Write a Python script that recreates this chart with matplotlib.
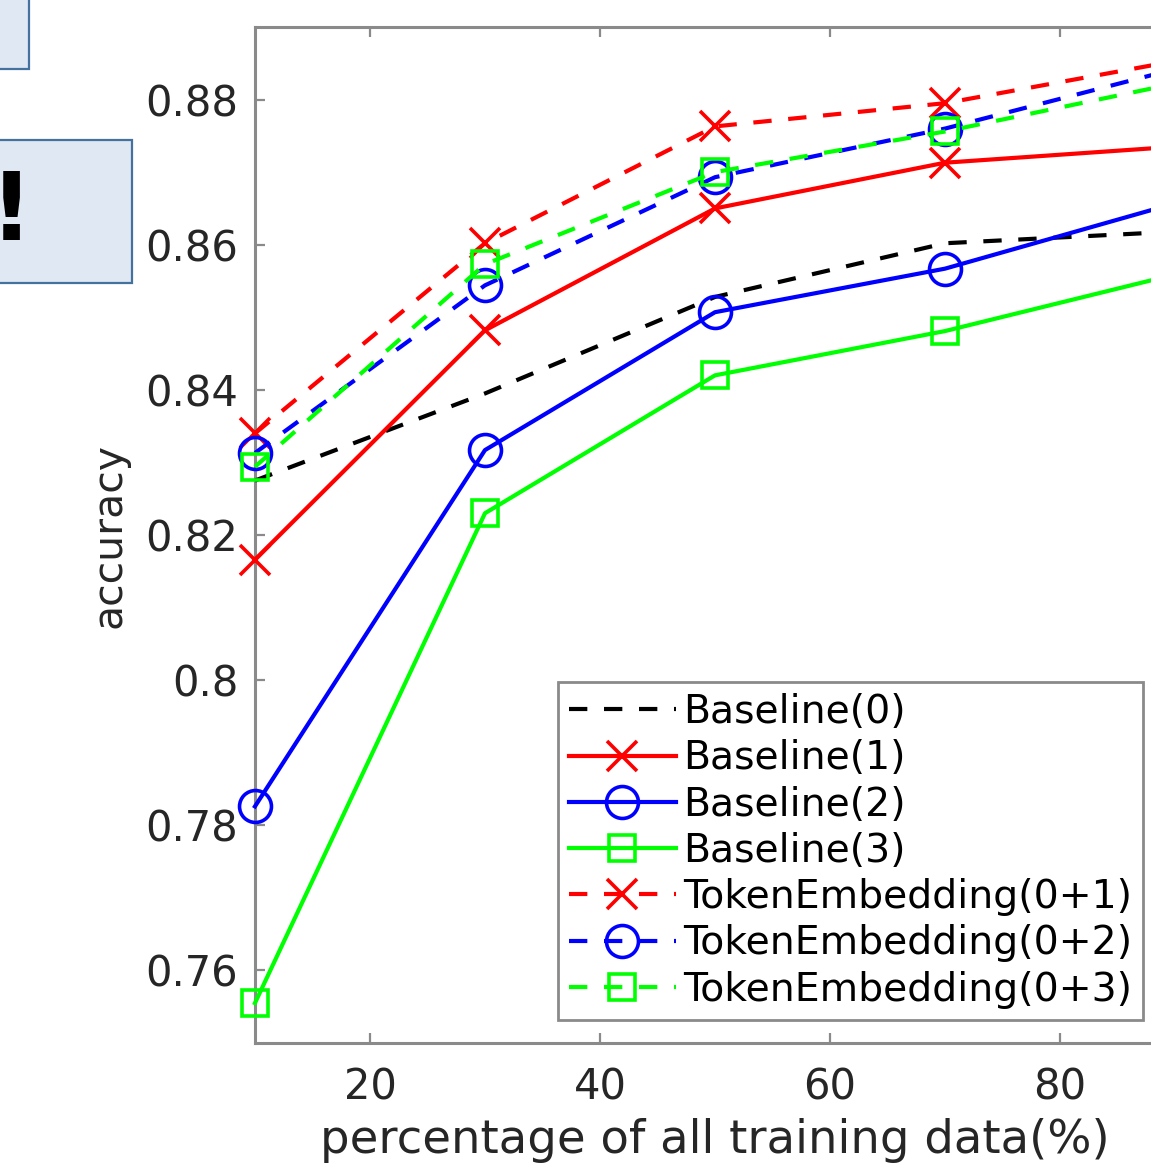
"""Accuracy vs fraction of training data: baselines vs token-embedding combos
(MATLAB-style figure, cropped on the right, with two slide callout boxes)."""
import numpy as np
import matplotlib
matplotlib.use("Agg")
import matplotlib.pyplot as plt
from matplotlib.patches import Rectangle

pct = [10, 30, 50, 70, 90]
labels = ["Baseline(0)", "Baseline(1)", "Baseline(2)", "Baseline(3)",
          "TokenEmbedding(0+1)", "TokenEmbedding(0+2)", "TokenEmbedding(0+3)"]
base0 = [0.8275, 0.8395, 0.8528, 0.8602, 0.8618]
base1 = [0.8166, 0.8482, 0.8650, 0.8713, 0.8735]
base2 = [0.7826, 0.8317, 0.8507, 0.8567, 0.8657]
base3 = [0.7555, 0.8230, 0.8420, 0.8481, 0.8559]
tok01 = [0.8340, 0.8602, 0.8763, 0.8795, 0.8853]
tok02 = [0.8313, 0.8544, 0.8693, 0.8760, 0.8842]
tok03 = [0.8294, 0.8573, 0.8700, 0.8756, 0.8822]
xticks = [20, 40, 60, 80]
yticks = [0.76, 0.78, 0.80, 0.82, 0.84, 0.86, 0.88]
yticklabels = ["0.76", "0.78", "0.8", "0.82", "0.84", "0.86", "0.88"]

series = [base0, base1, base2, base3, tok01, tok02, tok03]
styles = [("k", "--", ""), ("r", "-", "x"), ("b", "-", "o"), ("#00ff00", "-", "s"),
          ("r", "--", "x"), ("b", "--", "o"), ("#00ff00", "--", "s")]
msize = {"x": 21, "o": 23, "s": 19, "": 0}

plt.rcParams["font.family"] = ["DejaVu Sans"]
txt = "#262626"
spine = "#8a8a8a"

fig = plt.figure(figsize=(11.51, 11.68), dpi=100)
ax = fig.add_axes([0.2215, 0.107, 0.7994, 0.8699])

for vals, lab, (c, ls, mk) in zip(series, labels, styles):
    line, = ax.plot(pct, vals, color=c, ls=ls, lw=3.0, marker=mk if mk else None,
                    ms=msize[mk], mfc="none", mec=c, mew=2.6, label=lab,
                    clip_on=False, zorder=3)
    if ls == "--":
        line.set_dashes((4.4, 4.0))

ax.set_xlim(10, 90)
ax.set_ylim(0.75, 0.89)
ax.set_xticks(xticks)
ax.set_yticks(yticks)
ax.set_yticklabels(yticklabels)
for s in ax.spines.values():
    s.set_color(spine)
    s.set_linewidth(2.2)
ax.tick_params(direction="in", length=7, width=1.6, color=spine, labelcolor=txt,
               labelsize=30, top=True, right=True)
ax.tick_params(axis="x", pad=17)
ax.tick_params(axis="y", pad=12)

ax.set_xlabel("percentage of all training data(%)", fontsize=33.5, color=txt)
ax.xaxis.set_label_coords(0.5, -0.074)
ax.set_ylabel("accuracy", fontsize=29.5, color=txt)
ax.yaxis.set_label_coords(-0.136, 0.5)

leg = ax.legend(loc="upper left", bbox_to_anchor=(558 / 1151, 1 - 682 / 1168),
                bbox_transform=fig.transFigure, borderaxespad=0, fontsize=28.4,
                handlelength=2.7, handletextpad=0.18, labelspacing=0.21,
                borderpad=0.28, numpoints=1, fancybox=False, framealpha=1,
                edgecolor=spine)
leg.get_frame().set_linewidth(2.0)
for t in leg.get_texts():
    t.set_color("black")

# slide callout boxes peeking in from the left
fig.patches.append(Rectangle((-0.01, 1 - 69 / 1168), 0.01 + 29 / 1151, 0.08,
                             transform=fig.transFigure, facecolor="#dfe8f3",
                             edgecolor="#45719f", lw=1.6))
fig.patches.append(Rectangle((-0.01, 1 - 283 / 1168), 0.01 + 132 / 1151, 143 / 1168,
                             transform=fig.transFigure, facecolor="#dfe8f3",
                             edgecolor="#45719f", lw=1.6))
fig.text(11 / 1151, 1 - 214 / 1168, "!", fontsize=68, fontweight="bold", color="black",
         ha="center", va="center")

fig.savefig("out.png", dpi=100)
